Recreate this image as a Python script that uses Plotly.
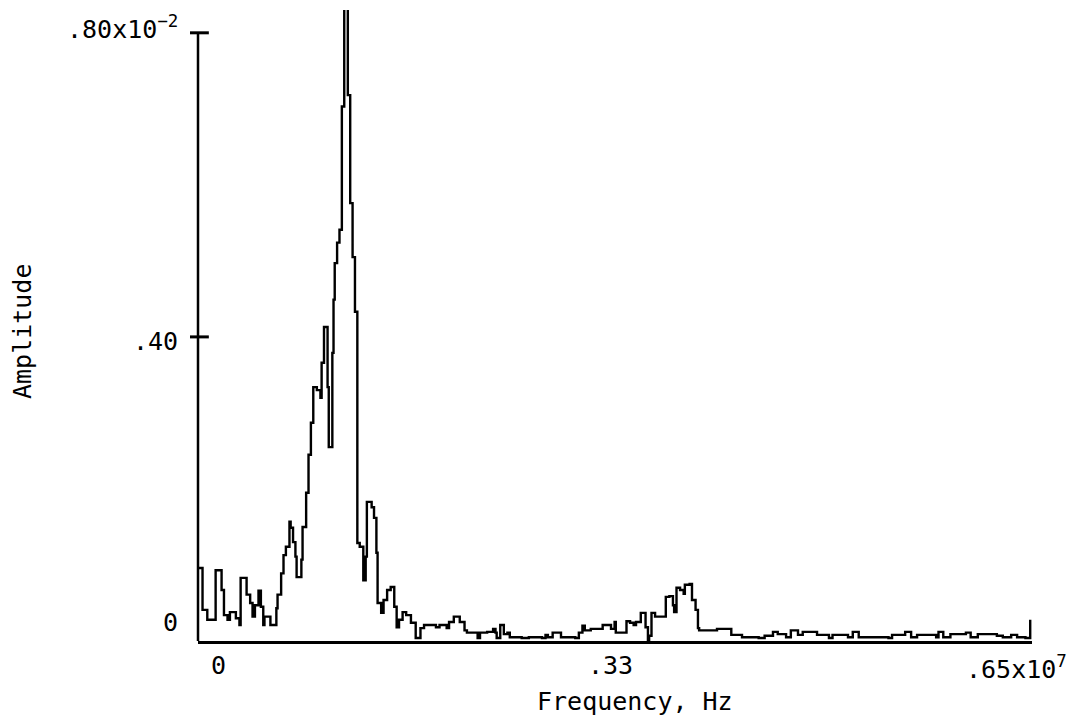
import plotly.graph_objects as go

# Frequency (x10^7 Hz) at the left edge of each step, and amplitude (x10^-2)
freq = [-0.017, -0.013, -0.009, -0.002, 0.003, 0.005, 0.008, 0.010, 0.015, 0.018,
        0.019, 0.024, 0.027, 0.029, 0.031, 0.034, 0.036, 0.038, 0.039, 0.044,
        0.049, 0.050, 0.053, 0.055, 0.057, 0.060, 0.061, 0.063, 0.065, 0.066,
        0.070, 0.071, 0.074, 0.076, 0.078, 0.080, 0.083, 0.086, 0.087, 0.089,
        0.092, 0.093, 0.096, 0.097, 0.098, 0.100, 0.102, 0.104, 0.106, 0.109,
        0.111, 0.113, 0.115, 0.117, 0.119, 0.122, 0.124, 0.125, 0.129, 0.131,
        0.133, 0.134, 0.137, 0.139, 0.142, 0.145, 0.148, 0.150, 0.152, 0.155,
        0.158, 0.162, 0.166, 0.170, 0.173, 0.183, 0.186, 0.192, 0.194, 0.198,
        0.203, 0.207, 0.209, 0.218, 0.220, 0.226, 0.231, 0.233, 0.234, 0.237,
        0.240, 0.243, 0.245, 0.255, 0.261, 0.272, 0.275, 0.277, 0.281, 0.288,
        0.300, 0.303, 0.306, 0.308, 0.313, 0.323, 0.330, 0.333, 0.334, 0.343,
        0.346, 0.349, 0.351, 0.355, 0.359, 0.361, 0.362, 0.364, 0.367, 0.376,
        0.379, 0.382, 0.383, 0.385, 0.388, 0.391, 0.392, 0.396, 0.398, 0.401,
        0.403, 0.404, 0.419, 0.431, 0.440, 0.454, 0.459, 0.466, 0.470, 0.477,
        0.481, 0.487, 0.491, 0.503, 0.513, 0.516, 0.529, 0.533, 0.538, 0.563,
        0.566, 0.577, 0.582, 0.587, 0.603, 0.605, 0.609, 0.615, 0.628, 0.632,
        0.638, 0.654, 0.659, 0.666, 0.671, 0.678, 0.682]

amplitude = [0.096, 0.041, 0.028, 0.093, 0.067, 0.034, 0.028, 0.038, 0.030, 0.021,
             0.083, 0.061, 0.050, 0.032, 0.047, 0.066, 0.045, 0.021, 0.032, 0.021,
             0.043, 0.061, 0.089, 0.113, 0.124, 0.157, 0.149, 0.130, 0.111, 0.084,
             0.107, 0.150, 0.195, 0.245, 0.287, 0.334, 0.330, 0.320, 0.366, 0.413,
             0.334, 0.255, 0.379, 0.449, 0.497, 0.524, 0.541, 0.703, 0.950, 0.718,
             0.576, 0.505, 0.433, 0.129, 0.124, 0.080, 0.111, 0.183, 0.176, 0.162,
             0.116, 0.050, 0.037, 0.054, 0.067, 0.071, 0.045, 0.018, 0.028, 0.038,
             0.034, 0.024, 0.004, 0.017, 0.021, 0.018, 0.021, 0.017, 0.025, 0.032,
             0.025, 0.014, 0.011, 0.004, 0.011, 0.012, 0.016, 0.011, 0.004, 0.021,
             0.009, 0.011, 0.005, 0.004, 0.005, 0.004, 0.008, 0.005, 0.011, 0.005,
             0.004, 0.011, 0.020, 0.014, 0.016, 0.021, 0.016, 0.025, 0.011, 0.026,
             0.024, 0.021, 0.025, 0.037, 0.018, 0.001, 0.007, 0.037, 0.032, 0.058,
             0.059, 0.047, 0.038, 0.070, 0.067, 0.062, 0.074, 0.075, 0.054, 0.041,
             0.017, 0.014, 0.016, 0.008, 0.005, 0.004, 0.007, 0.012, 0.009, 0.005,
             0.014, 0.008, 0.012, 0.008, 0.004, 0.008, 0.005, 0.012, 0.005, 0.004,
             0.008, 0.012, 0.005, 0.008, 0.005, 0.012, 0.005, 0.009, 0.011, 0.005,
             0.009, 0.007, 0.005, 0.008, 0.005, 0.004, 0.028]

x_tick_vals = [0, 0.33, 0.65]
x_tick_text = ["0", ".33", ".65x10<sup>7</sup>"]
y_tick_vals = [0, 0.40, 0.80]
y_tick_text = ["0", ".40", ".80x10<sup>\u22122</sup>"]

x_title = "Frequency, Hz"
y_title = "Amplitude"

FONT = "DejaVu Sans Mono"
FS = 25
fig = go.Figure()
fig.add_trace(go.Scatter(x=freq, y=amplitude, mode="lines",
                         line=dict(color="black", width=2.4, shape="hv"),
                         showlegend=False, hoverinfo="skip"))

fig.update_layout(
    width=1073, height=724,
    margin=dict(l=198, r=41, t=10, b=83),
    paper_bgcolor="white", plot_bgcolor="white",
    xaxis=dict(range=[-0.0168, 0.6835], showgrid=False, zeroline=False,
               showticklabels=False, ticks="", showline=True,
               linecolor="black", linewidth=3),
    yaxis=dict(range=[0, 0.830], showgrid=False, zeroline=False,
               showticklabels=False, ticks="", showline=False),
)

# y axis line (stops at the top tick) and crossing ticks
fig.add_shape(type="line", xref="paper", yref="y", x0=0, x1=0,
              y0=y_tick_vals[0], y1=y_tick_vals[-1],
              line=dict(color="black", width=2.5))
for v in y_tick_vals[1:]:
    fig.add_shape(type="line", xref="paper", yref="y", x0=-0.0096, x1=0.013,
                  y0=v, y1=v, line=dict(color="black", width=3))

# tick labels
y_shifts = [19, -5, 5]
for v, t, s in zip(y_tick_vals, y_tick_text, y_shifts):
    fig.add_annotation(x=0, xref="paper", y=v, yref="y", text=t,
                       showarrow=False, xanchor="right", yanchor="middle",
                       xshift=-18, yshift=s, font=dict(family=FONT, size=FS, color="black"))

x_anchors = ["center", "center", "left"]
x_shifts = [0, -1, -28]
for v, t, a, s in zip(x_tick_vals, x_tick_text, x_anchors, x_shifts):
    fig.add_annotation(x=v, xref="x", y=0, yref="paper", text=t,
                       showarrow=False, xanchor=a, yanchor="top",
                       xshift=s, yshift=-8, font=dict(family=FONT, size=FS, color="black"))

fig.add_annotation(x=0.524, xref="paper", y=0, yref="paper", text=x_title,
                   showarrow=False, xanchor="center", yanchor="middle", yshift=-60,
                   font=dict(family=FONT, size=FS, color="black"))
fig.add_annotation(x=-0.2098, xref="paper", y=0.4897, yref="paper", text=y_title,
                   showarrow=False, textangle=-90, xanchor="center", yanchor="middle",
                   font=dict(family=FONT, size=FS, color="black"))

fig.write_html("out.html")
